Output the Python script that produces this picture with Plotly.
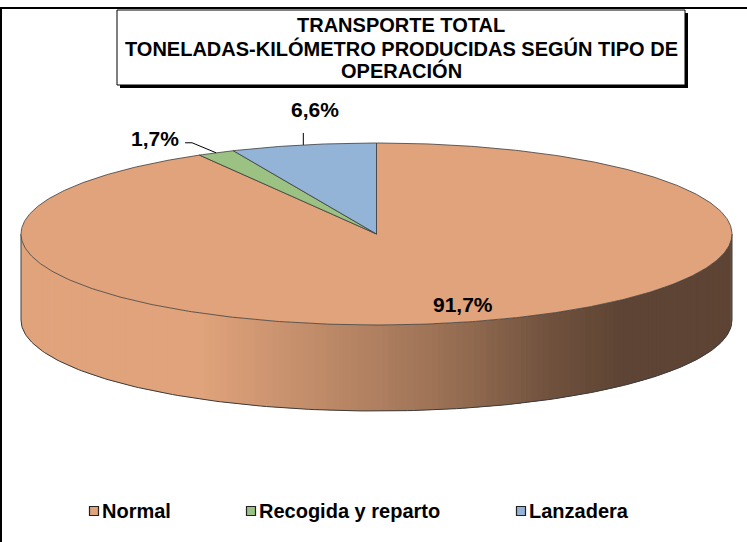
import numpy as np
import plotly.graph_objects as go

# --- data -------------------------------------------------------------
title_lines = [
    "TRANSPORTE TOTAL",
    "TONELADAS-KILÓMETRO PRODUCIDAS SEGÚN TIPO DE",
    "OPERACIÓN",
]
categories = ["Normal", "Recogida y reparto", "Lanzadera"]
shares = [91.7, 1.7, 6.6]
value_labels = ["91,7%", "1,7%", "6,6%"]

# --- style ------------------------------------------------------------
slice_colors = ["#E0A37B", "#9BC283", "#93B3D7"]
edge_color = "#3C3C3C"
FONT = "Liberation Sans, Arial, sans-serif"

W, H = 747, 542
CX, CY = 376.5, 234.0      # centre of the top face (px)
RX, RY = 355.5, 91.0       # radii of the top ellipse (px)
DEPTH = 86.0               # thickness of the disc (px)

# side lighting: brightness factor across the width of the disc
SHADE_X = [0, 200, 250, 377, 450, 550, 620, W]
SHADE_F = [1.0, 1.0, 0.94, 0.78, 0.68, 0.50, 0.42, 0.42]

# label placement
INSIDE_RX, INSIDE_RY = 0.94, 0.80
OUTSIDE = {
    1: dict(path=[(-24, -10), (-31, -10)], text=(-35, -14), anchor="right"),
    2: dict(path=[(0, -12)], text=(12, -35), anchor="center"),
}

# legend layout (px)
LEGEND_Y = 511
LEGEND_X = [94, 251, 521]
KEY = 9


def rim(alpha_deg, rx=1.0, ry=1.0, drop=0.0):
    """Point on the top ellipse; alpha measured clockwise from 12 o'clock."""
    a = np.radians(alpha_deg)
    return CX + rx * RX * np.sin(a), CY - ry * RY * np.cos(a) + drop


def shade(hex_color, f):
    h = hex_color.lstrip("#")
    rgb = [int(h[i:i + 2], 16) for i in (0, 2, 4)]
    return "rgb({},{},{})".format(*[int(round(c * f)) for c in rgb])


fig = go.Figure()

total = float(sum(shares))
bounds = np.concatenate([[0.0], np.cumsum(shares) / total * 360.0])

# --- front wall of the disc (only the half facing the viewer) ----------
for i, color in enumerate(slice_colors):
    a0, a1 = max(bounds[i], 90.0), min(bounds[i + 1], 270.0)
    if a1 <= a0:
        continue
    steps = max(2, int((a1 - a0) / 1.0))
    edges = np.linspace(a0, a1, steps + 1)
    step = edges[1] - edges[0]
    for s0, s1 in zip(edges[:-1], edges[1:]):
        # overlap into the next strip so no seams show between them
        s1x = min(s1 + 0.8 * step, a1)
        xa, ya = rim(s0)
        xb, yb = rim(s1x)
        xm = 0.5 * (xa + rim(s1)[0])
        c = shade(color, float(np.interp(xm, SHADE_X, SHADE_F)))
        fig.add_trace(go.Scatter(
            x=[xa, xb, xb, xa, xa],
            y=[ya, yb, yb + DEPTH, ya + DEPTH, ya],
            mode="lines", fill="toself", fillcolor=c,
            line=dict(width=0),
            hoverinfo="skip", showlegend=False,
        ))

# outline of the wall: bottom arc and the two vertical edges
arc = np.linspace(90.0, 270.0, 181)
bx, by = rim(arc, drop=DEPTH)
fig.add_trace(go.Scatter(x=bx, y=by, mode="lines",
                         line=dict(color=edge_color, width=1),
                         hoverinfo="skip", showlegend=False))
for a in (90.0, 270.0):
    x0, y0 = rim(a)
    fig.add_trace(go.Scatter(x=[x0, x0], y=[y0, y0 + DEPTH], mode="lines",
                             line=dict(color=edge_color, width=1),
                             hoverinfo="skip", showlegend=False))

# --- top face: one wedge per category ---------------------------------
for i, (name, color) in enumerate(zip(categories, slice_colors)):
    a0, a1 = bounds[i], bounds[i + 1]
    angs = np.linspace(a0, a1, max(3, int((a1 - a0) * 2)))
    px, py = rim(angs)
    xs = np.concatenate([[CX], px, [CX]])
    ys = np.concatenate([[CY], py, [CY]])
    fig.add_trace(go.Scatter(
        x=xs, y=ys, mode="lines", fill="toself", fillcolor=color,
        line=dict(color=edge_color, width=0.8),
        name=name, hoverinfo="skip", showlegend=False,
    ))

# --- value labels -----------------------------------------------------
label_font = dict(family=FONT, size=21, color="black", weight="bold")
for i, text in enumerate(value_labels):
    mid = 0.5 * (bounds[i] + bounds[i + 1])
    if i in OUTSIDE:
        spec = OUTSIDE[i]
        x0, y0 = rim(mid)
        lx = [x0] + [x0 + dx for dx, _ in spec["path"]]
        ly = [y0] + [y0 + dy for _, dy in spec["path"]]
        fig.add_trace(go.Scatter(x=lx, y=ly, mode="lines",
                                 line=dict(color="black", width=1),
                                 hoverinfo="skip", showlegend=False))
        fig.add_annotation(x=x0 + spec["text"][0], y=y0 + spec["text"][1],
                           text=text, showarrow=False, xanchor=spec["anchor"],
                           yanchor="middle", font=label_font)
    else:
        x0, y0 = rim(mid, rx=INSIDE_RX, ry=INSIDE_RY)
        fig.add_annotation(x=x0, y=y0, text=text, showarrow=False,
                           xanchor="center", yanchor="middle", font=label_font)

# --- frame and title box ----------------------------------------------
shapes = [
    dict(type="rect", xref="x", yref="y", x0=1, y0=8, x1=W + 20, y1=H + 20,
         line=dict(color="black", width=2), fillcolor="rgba(0,0,0,0)",
         layer="above"),
    dict(type="rect", xref="x", yref="y", x0=120, y0=13, x1=688, y1=88,
         line=dict(width=0), fillcolor="black", layer="above"),
    dict(type="rect", xref="x", yref="y", x0=117, y0=10, x1=685, y1=85,
         line=dict(color="black", width=1), fillcolor="white", layer="above"),
]
title_font = dict(family=FONT, size=20, color="black", weight="bold")
for line, y in zip(title_lines, [24.5, 48, 70.5]):
    fig.add_annotation(x=401, y=y, text=line, showarrow=False,
                       xanchor="center", yanchor="middle", font=title_font)

# --- legend -----------------------------------------------------------
legend_font = dict(family=FONT, size=20, color="black", weight="bold")
for name, color, lx in zip(categories, slice_colors, LEGEND_X):
    shapes.append(dict(type="rect", xref="x", yref="y",
                       x0=lx - KEY / 2, x1=lx + KEY / 2,
                       y0=LEGEND_Y - KEY / 2, y1=LEGEND_Y + KEY / 2,
                       fillcolor=color, line=dict(color="#222222", width=1.2),
                       layer="above"))
    fig.add_annotation(x=lx + KEY / 2 + 1.5, y=LEGEND_Y, text=name,
                       showarrow=False, xanchor="left", yanchor="middle",
                       font=legend_font)

fig.update_layout(
    width=W, height=H,
    margin=dict(l=0, r=0, t=0, b=0),
    paper_bgcolor="white", plot_bgcolor="white",
    shapes=shapes,
    xaxis=dict(range=[0, W], visible=False, fixedrange=True),
    yaxis=dict(range=[H, 0], visible=False, fixedrange=True),
    showlegend=False,
)

fig.write_html("out.html")
